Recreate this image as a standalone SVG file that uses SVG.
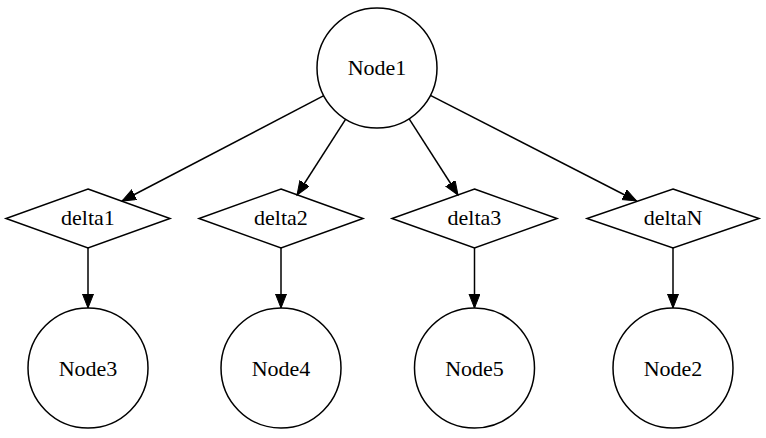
<svg xmlns="http://www.w3.org/2000/svg" width="766" height="438" viewBox="0 0 766 438">
<style>
.n{fill:none;stroke:#000;stroke-width:1.5}
.e{fill:none;stroke:#000;stroke-width:1.5}
text{font-family:'Liberation Serif','Tinos','Times New Roman','DejaVu Serif',serif;font-size:22px;text-anchor:middle;fill:#000}
</style>
<defs>
<marker id="a" markerUnits="userSpaceOnUse" markerWidth="16" markerHeight="12" refX="14" refY="5.5" orient="auto">
<path d="M0,0 L14,5.5 L0,11 z" fill="#000" stroke="#000" stroke-width="1"/>
</marker>
</defs>
<rect width="766" height="438" fill="#fff"/>
<g id="edges">
<line class="e" x1="323.8" y1="95.7" x2="122" y2="201" marker-end="url(#a)"/>
<line class="e" x1="345.7" y1="119.2" x2="297" y2="195" marker-end="url(#a)"/>
<line class="e" x1="409" y1="118.7" x2="458" y2="195" marker-end="url(#a)"/>
<line class="e" x1="430.4" y1="95.4" x2="636.5" y2="201" marker-end="url(#a)"/>
<line class="e" x1="88" y1="248" x2="88" y2="308" marker-end="url(#a)"/>
<line class="e" x1="281" y1="248" x2="281" y2="308" marker-end="url(#a)"/>
<line class="e" x1="474.5" y1="248" x2="474.5" y2="308" marker-end="url(#a)"/>
<line class="e" x1="673" y1="248" x2="673" y2="308" marker-end="url(#a)"/>
</g>
<g id="Node1"><circle class="n" cx="377" cy="68" r="60"/><text x="377" y="75">Node1</text></g>
<g id="delta1"><polygon class="n" points="88,189 170,218.5 88,248 6,218.5"/><text x="88" y="225">delta1</text></g>
<g id="delta2"><polygon class="n" points="281,189 363,218.5 281,248 199,218.5"/><text x="281" y="225">delta2</text></g>
<g id="delta3"><polygon class="n" points="474.5,189 557,218.5 474.5,248 392,218.5"/><text x="474.5" y="225">delta3</text></g>
<g id="deltaN"><polygon class="n" points="673,189 759,218.5 673,248 587,218.5"/><text x="673" y="225">deltaN</text></g>
<g id="Node3"><circle class="n" cx="88" cy="368" r="60"/><text x="88" y="376">Node3</text></g>
<g id="Node4"><circle class="n" cx="281" cy="368" r="60"/><text x="281" y="376">Node4</text></g>
<g id="Node5"><circle class="n" cx="474.5" cy="368" r="60"/><text x="474.5" y="376">Node5</text></g>
<g id="Node2"><circle class="n" cx="673" cy="368" r="60"/><text x="673" y="376">Node2</text></g>
</svg>
